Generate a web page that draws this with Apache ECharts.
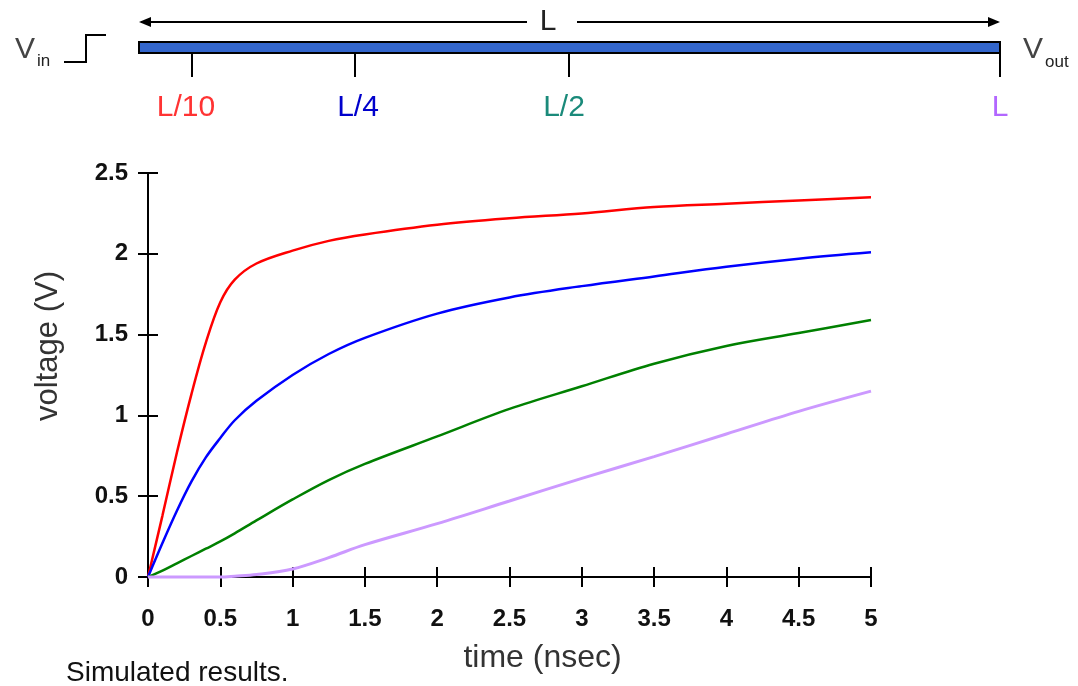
<!DOCTYPE html>
<html>
<head>
<meta charset="utf-8">
<script src="https://cdn.jsdelivr.net/npm/echarts@6/dist/echarts.min.js"></script>
<style>
  html, body { margin: 0; padding: 0; background: #fff; }
  #main { width: 1078px; height: 686px; }
</style>
</head>
<body>
<div id="main"></div>
<script>
// time samples (nsec)
var time = [0, 0.1, 0.2, 0.3, 0.4, 0.5, 0.6, 0.75, 1, 1.25, 1.5, 2, 2.5, 3, 3.5, 4, 4.5, 5];

// voltage at each tap along the wire
var vL10 = [0, 0.38, 0.77, 1.13, 1.45, 1.70, 1.84, 1.94, 2.02, 2.08, 2.12, 2.18, 2.22, 2.25, 2.29, 2.31, 2.33, 2.35];
var vL4  = [0, 0.21, 0.41, 0.59, 0.74, 0.86, 0.97, 1.09, 1.25, 1.38, 1.48, 1.63, 1.73, 1.80, 1.86, 1.92, 1.97, 2.01];
var vL2  = [0, 0.04, 0.085, 0.13, 0.175, 0.22, 0.27, 0.35, 0.48, 0.60, 0.70, 0.87, 1.04, 1.18, 1.32, 1.43, 1.51, 1.59];
var vL   = [0, 0, 0, 0, 0, 0, 0.005, 0.015, 0.05, 0.12, 0.20, 0.33, 0.47, 0.61, 0.745, 0.885, 1.025, 1.15];

var tapNames = ['L/10', 'L/4', 'L/2', 'L'];
var tapColors = ['#ff0000', '#0000ff', '#008000', '#cc99ff'];
var tapLabelColors = ['#ff3333', '#0000cc', '#1a8a7a', '#b266ff'];

function pairs(ys) {
  var out = [];
  for (var i = 0; i < time.length; i++) {
    out.push([time[i], ys[i]]);
  }
  return out;
}

var font = 'Liberation Sans, Arial, sans-serif';
var dom = document.getElementById('main');
var myChart = echarts.init(dom);

// wire diagram on top
var tapX = [192, 355, 569, 1000];
var tapLabelX = [186, 358, 564, 1000];
var graphics = [
  // L dimension arrow
  { type: 'line', shape: { x1: 141, y1: 22, x2: 527, y2: 22 }, style: { stroke: '#000', lineWidth: 2 } },
  { type: 'line', shape: { x1: 577, y1: 22, x2: 998, y2: 22 }, style: { stroke: '#000', lineWidth: 2 } },
  { type: 'polygon', shape: { points: [[139, 22], [151, 17], [151, 27]] }, style: { fill: '#000' } },
  { type: 'polygon', shape: { points: [[1000, 22], [988, 17], [988, 27]] }, style: { fill: '#000' } },
  { type: 'text', x: 548, y: 22, style: { text: 'L', font: '30px ' + font, fill: '#222', align: 'center', verticalAlign: 'middle' } },
  // wire
  { type: 'rect', shape: { x: 139, y: 42, width: 861, height: 11 }, style: { fill: '#3366cc', stroke: '#000', lineWidth: 2 } },
  // Vin step
  { type: 'text', x: 15, y: 50, style: { text: 'V', font: '30px ' + font, fill: '#444', verticalAlign: 'middle' } },
  { type: 'text', x: 37, y: 61, style: { text: 'in', font: '17px ' + font, fill: '#222', verticalAlign: 'middle' } },
  { type: 'polyline', shape: { points: [[64, 62], [86, 62], [86, 35], [106, 35]] }, style: { stroke: '#000', lineWidth: 2, fill: null } },
  // Vout
  { type: 'text', x: 1023, y: 50, style: { text: 'V', font: '30px ' + font, fill: '#444', verticalAlign: 'middle' } },
  { type: 'text', x: 1045, y: 62, style: { text: 'out', font: '17px ' + font, fill: '#222', verticalAlign: 'middle' } },
  // caption
  { type: 'text', left: 66, top: 659, style: { text: 'Simulated results.', font: '28px ' + font, fill: '#111' } }
];
for (var k = 0; k < tapNames.length; k++) {
  graphics.push({ type: 'line', shape: { x1: tapX[k], y1: 53, x2: tapX[k], y2: 77 }, style: { stroke: '#000', lineWidth: 2 } });
  graphics.push({ type: 'text', x: tapLabelX[k], y: 108, style: { text: tapNames[k], font: '30px ' + font, fill: tapLabelColors[k], align: 'center', verticalAlign: 'middle' } });
}

var series = [];
var vals = [vL10, vL4, vL2, vL];
for (var s = 0; s < vals.length; s++) {
  series.push({
    name: tapNames[s],
    type: 'line',
    data: pairs(vals[s]),
    smooth: 0.35,
    showSymbol: false,
    clip: false,
    lineStyle: { color: tapColors[s], width: s === 3 ? 3 : 2.5 },
    itemStyle: { color: tapColors[s] }
  });
}

var tickLabel = { color: '#111', fontFamily: font, fontSize: 24, fontWeight: 'bold' };

option = {
  animation: false,
  backgroundColor: '#fff',
  graphic: graphics,
  grid: { left: 148, right: 207, top: 173, bottom: 109 },
  xAxis: [
    {
      type: 'value', min: 0, max: 5, interval: 0.5, position: 'bottom',
      name: 'time (nsec)', nameLocation: 'middle', nameGap: 65,
      nameTextStyle: { color: '#333', fontFamily: font, fontSize: 32, padding: [0, 0, 0, 66] },
      axisLine: { onZero: false, lineStyle: { color: '#000', width: 2 } },
      axisTick: { inside: false, length: 10, lineStyle: { color: '#000', width: 2 } },
      axisLabel: Object.assign({ margin: 30 }, tickLabel),
      splitLine: { show: false }
    },
    {
      type: 'value', min: 0, max: 5, interval: 0.5, position: 'bottom',
      axisLine: { show: false, onZero: false },
      axisTick: { inside: true, length: 10, lineStyle: { color: '#000', width: 2 } },
      axisLabel: { show: false },
      splitLine: { show: false }
    }
  ],
  yAxis: [
    {
      type: 'value', min: 0, max: 2.5, interval: 0.5, position: 'left',
      name: 'voltage (V)', nameLocation: 'middle', nameGap: 84,
      nameTextStyle: { color: '#333', fontFamily: font, fontSize: 31, padding: [0, 0, 0, 58] },
      axisLine: { show: true, onZero: false, lineStyle: { color: '#000', width: 2 } },
      axisTick: { show: true, inside: false, length: 10, lineStyle: { color: '#000', width: 2 } },
      axisLabel: Object.assign({ margin: 20 }, tickLabel),
      splitLine: { show: false }
    },
    {
      type: 'value', min: 0, max: 2.5, interval: 0.5, position: 'left',
      axisLine: { show: false, onZero: false },
      axisTick: { show: true, inside: true, length: 10, lineStyle: { color: '#000', width: 2 } },
      axisLabel: { show: false },
      splitLine: { show: false }
    }
  ],
  series: series
};

if (option && typeof option === 'object') {
  myChart.setOption(option, true);
}
</script>
</body>
</html>
